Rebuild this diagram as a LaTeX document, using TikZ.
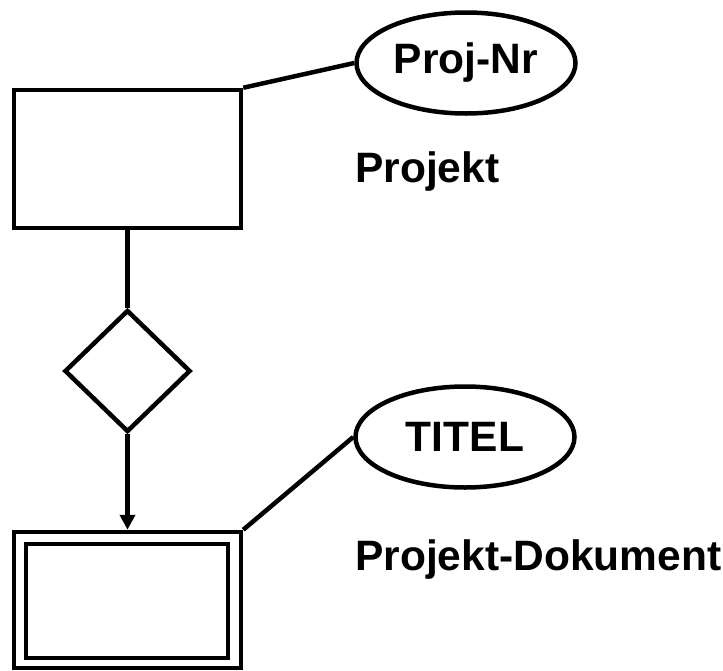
\documentclass[tikz,border=0pt]{standalone}
\usepackage{fontspec}
\setmainfont{Liberation Sans}
\usetikzlibrary{shapes.geometric,arrows.meta}
\begin{document}
\begin{tikzpicture}[x=1pt,y=-1pt,
  every node/.style={line width=4.5pt},
  ent/.style={draw,rectangle,inner sep=0pt},
  attr/.style={draw,ellipse,inner sep=0pt,minimum width=219pt,minimum height=101pt,
    font=\fontsize{42.5}{50}\selectfont\bfseries},
  rel/.style={draw,diamond,inner sep=0pt,minimum width=126pt,minimum height=122pt},
  lbl/.style={inner sep=0pt,anchor=base west,font=\fontsize{42.5}{50}\selectfont\bfseries},
  conn/.style={line width=4.5pt}]
\useasboundingbox (0,0) rectangle (723,670);
\node[ent,minimum width=227pt,minimum height=138pt] (r1) at (127.5,159) {};
\node[attr] (e1) at (466,63) {Proj-Nr};
\node[lbl] (t1) at (353,182) {Projekt};
\node[rel] (d) at (127.5,371) {};
\node[ent,minimum width=227pt,minimum height=136pt] (r2) at (127.5,600) {};
\node[ent,minimum width=202pt,minimum height=114pt] (r2in) at (127,601) {};
\node[attr] (e2) at (465,437) {TITEL};
\node[lbl] (t2) at (353,570) {Projekt-Dokument};
\draw[conn] (r1.north east) -- (e1.west);
\draw[conn] (r1.south) -- (d.north);
\draw[conn,-{Triangle[width=15pt,length=15pt]}] (d.south) -- (r2.north);
\draw[conn] (r2.north east) -- (e2.west);
\end{tikzpicture}
\end{document}
